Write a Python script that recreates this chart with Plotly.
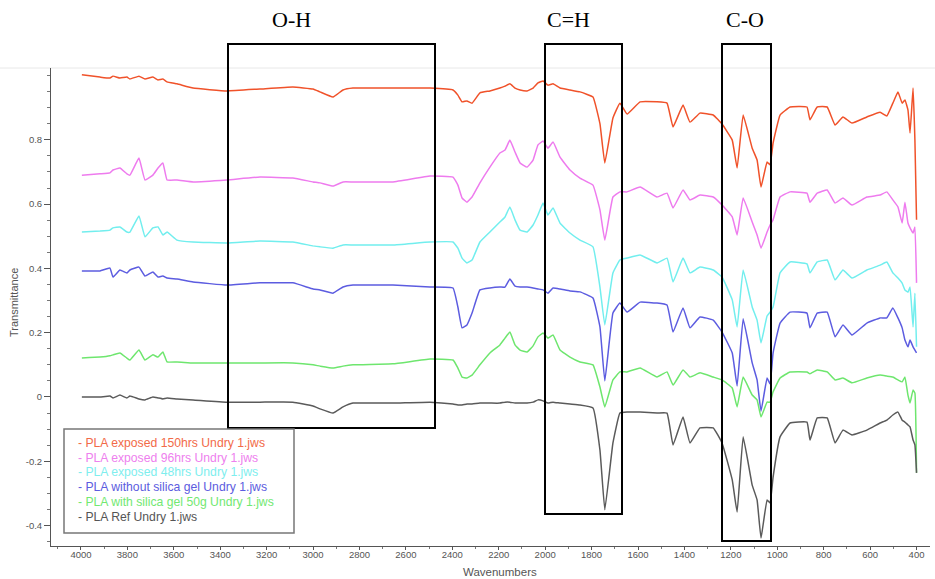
import plotly.graph_objects as go

# ---------------- data ----------------
wavenumbers = [3996, 3918, 3875, 3862, 3832, 3802, 3789, 3750, 3724, 3690,
               3668, 3647, 3629, 3586, 3517, 3371, 3229, 3087, 3000, 2970,
               2914, 2871, 2828, 2656, 2496, 2397, 2376, 2358, 2337, 2315,
               2281, 2238, 2195, 2173, 2152, 2130, 2108, 2078, 2052, 2031,
               2009, 1988, 1966, 1936, 1893, 1850, 1794, 1764, 1743, 1708,
               1678, 1647, 1591, 1518, 1475, 1449, 1406, 1376, 1333, 1276,
               1238, 1194, 1173, 1147, 1108, 1087, 1070, 1044, 1031, 1018,
               988, 945, 872, 859, 828, 785, 751, 717, 678, 614,
               557, 528, 502, 480, 462, 450, 437, 428, 415, 407,
               400]

t_exposed_150h = [1.002, 0.995, 0.992, 0.998, 0.992, 0.995, 0.989, 0.998, 0.989, 0.995,
                  0.986, 0.989, 0.980, 0.974, 0.961, 0.952, 0.958, 0.964, 0.958, 0.949,
                  0.933, 0.955, 0.961, 0.961, 0.961, 0.955, 0.939, 0.918, 0.921, 0.914,
                  0.946, 0.952, 0.961, 0.967, 0.974, 0.961, 0.955, 0.952, 0.961, 0.977,
                  0.983, 0.970, 0.974, 0.961, 0.955, 0.949, 0.933, 0.850, 0.728, 0.868,
                  0.914, 0.880, 0.918, 0.918, 0.914, 0.840, 0.908, 0.855, 0.883, 0.877,
                  0.849, 0.799, 0.712, 0.877, 0.774, 0.737, 0.653, 0.731, 0.722, 0.790,
                  0.877, 0.902, 0.902, 0.862, 0.902, 0.902, 0.846, 0.871, 0.852, 0.871,
                  0.886, 0.874, 0.914, 0.949, 0.914, 0.924, 0.893, 0.821, 0.961, 0.799,
                  0.551]

t_exposed_96h = [0.690, 0.694, 0.697, 0.706, 0.712, 0.694, 0.690, 0.743, 0.675, 0.690,
                 0.712, 0.728, 0.675, 0.675, 0.669, 0.675, 0.684, 0.681, 0.669, 0.666,
                 0.656, 0.669, 0.669, 0.669, 0.687, 0.684, 0.659, 0.619, 0.606, 0.622,
                 0.666, 0.715, 0.759, 0.768, 0.799, 0.762, 0.728, 0.715, 0.737, 0.784,
                 0.796, 0.774, 0.793, 0.746, 0.706, 0.681, 0.659, 0.582, 0.488, 0.622,
                 0.638, 0.638, 0.653, 0.622, 0.634, 0.588, 0.644, 0.613, 0.628, 0.622,
                 0.597, 0.560, 0.504, 0.619, 0.544, 0.504, 0.463, 0.513, 0.535, 0.551,
                 0.622, 0.638, 0.634, 0.606, 0.634, 0.644, 0.603, 0.619, 0.597, 0.622,
                 0.628, 0.638, 0.613, 0.591, 0.541, 0.606, 0.541, 0.526, 0.510, 0.529,
                 0.355]

t_exposed_48h = [0.513, 0.516, 0.519, 0.526, 0.529, 0.513, 0.513, 0.563, 0.498, 0.526,
                 0.529, 0.504, 0.513, 0.488, 0.482, 0.479, 0.485, 0.482, 0.470, 0.467,
                 0.463, 0.473, 0.473, 0.473, 0.482, 0.482, 0.463, 0.432, 0.417, 0.426,
                 0.482, 0.513, 0.544, 0.560, 0.591, 0.551, 0.519, 0.513, 0.535, 0.566,
                 0.603, 0.566, 0.588, 0.541, 0.510, 0.488, 0.467, 0.342, 0.224, 0.386,
                 0.426, 0.432, 0.442, 0.417, 0.432, 0.358, 0.432, 0.386, 0.404, 0.395,
                 0.373, 0.302, 0.218, 0.395, 0.280, 0.239, 0.168, 0.252, 0.264, 0.280,
                 0.386, 0.420, 0.414, 0.386, 0.420, 0.426, 0.364, 0.395, 0.370, 0.395,
                 0.410, 0.420, 0.386, 0.370, 0.354, 0.333, 0.326, 0.342, 0.218, 0.323,
                 0.156]

t_without_silica = [0.392, 0.392, 0.401, 0.373, 0.395, 0.386, 0.395, 0.404, 0.376, 0.389,
                    0.373, 0.376, 0.370, 0.367, 0.358, 0.348, 0.355, 0.355, 0.336, 0.333,
                    0.323, 0.342, 0.348, 0.348, 0.342, 0.339, 0.280, 0.215, 0.224, 0.261,
                    0.333, 0.339, 0.342, 0.342, 0.367, 0.345, 0.342, 0.342, 0.339, 0.336,
                    0.333, 0.323, 0.339, 0.336, 0.330, 0.327, 0.308, 0.218, 0.050, 0.261,
                    0.292, 0.264, 0.295, 0.292, 0.286, 0.202, 0.277, 0.215, 0.249, 0.239,
                    0.202, 0.137, 0.034, 0.243, 0.106, 0.053, -0.044, 0.059, 0.040, 0.137,
                    0.230, 0.264, 0.261, 0.215, 0.261, 0.264, 0.187, 0.224, 0.193, 0.230,
                    0.246, 0.246, 0.277, 0.246, 0.215, 0.177, 0.156, 0.177, 0.156, 0.146,
                    0.137]

t_with_silica_50g = [0.121, 0.124, 0.128, 0.131, 0.137, 0.121, 0.115, 0.146, 0.115, 0.131,
                     0.124, 0.140, 0.109, 0.109, 0.106, 0.106, 0.106, 0.106, 0.100, 0.096,
                     0.090, 0.096, 0.100, 0.103, 0.118, 0.115, 0.090, 0.062, 0.059, 0.068,
                     0.100, 0.137, 0.162, 0.183, 0.202, 0.162, 0.146, 0.140, 0.159, 0.187,
                     0.199, 0.183, 0.193, 0.146, 0.124, 0.109, 0.100, 0.031, -0.031, 0.053,
                     0.078, 0.078, 0.090, 0.062, 0.078, 0.037, 0.084, 0.062, 0.075, 0.062,
                     0.053, 0.028, -0.031, 0.062, 0.006, -0.009, -0.062, -0.016, -0.016, 0.016,
                     0.059, 0.078, 0.078, 0.072, 0.084, 0.078, 0.053, 0.059, 0.044, 0.059,
                     0.068, 0.065, 0.062, 0.053, 0.047, 0.062, 0.006, -0.019, 0.022, 0.012,
                     -0.236]

t_reference = [0.000, 0.000, 0.003, -0.003, 0.006, -0.003, 0.003, -0.006, -0.009, 0.000,
               -0.003, -0.006, -0.003, -0.006, -0.009, -0.016, -0.016, -0.016, -0.028, -0.037,
               -0.050, -0.031, -0.019, -0.019, -0.016, -0.022, -0.025, -0.025, -0.022, -0.022,
               -0.019, -0.019, -0.019, -0.016, -0.016, -0.019, -0.019, -0.019, -0.016, -0.009,
               -0.012, -0.019, -0.016, -0.019, -0.022, -0.025, -0.034, -0.165, -0.351, -0.143,
               -0.050, -0.047, -0.047, -0.050, -0.050, -0.149, -0.062, -0.143, -0.096, -0.096,
               -0.143, -0.258, -0.358, -0.124, -0.274, -0.320, -0.439, -0.320, -0.330, -0.249,
               -0.124, -0.081, -0.078, -0.134, -0.065, -0.065, -0.143, -0.103, -0.118, -0.103,
               -0.081, -0.072, -0.056, -0.047, -0.072, -0.078, -0.087, -0.093, -0.134, -0.149,
               -0.236]

series_names = ["PLA exposed 150hrs Undry 1.jws",
                "PLA exposed 96hrs Undry 1.jws",
                "PLA exposed 48hrs Undry 1.jws",
                "PLA without silica gel Undry 1.jws",
                "PLA with silica gel 50g Undry 1.jws",
                "PLA Ref Undry 1.jws"]
series_values = [t_exposed_150h, t_exposed_96h, t_exposed_48h,
                 t_without_silica, t_with_silica_50g, t_reference]
series_colors = ["#F0522A", "#EE7BEE", "#72EEEE", "#5C5CE0", "#6EE66E", "#5A5A5A"]
legend_colors = ["#F26A48", "#EE80EE", "#7EEEEE", "#5C5CE0", "#72E872", "#555555"]

x_tick_vals = [4000, 3800, 3600, 3400, 3200, 3000, 2800, 2600, 2400, 2200,
               2000, 1800, 1600, 1400, 1200, 1000, 800, 600, 400]
x_tick_text = [str(v) for v in x_tick_vals]
x_minor_vals = [v - 100 for v in x_tick_vals[:-1]] + [4100]
y_tick_vals = [1.0, 0.8, 0.6, 0.4, 0.2, 0.0, -0.2, -0.4]
y_tick_text = ["", "0.8", "0.6", "0.4", "0.2", "0", "-0.2", "-0.4"]
y_minor_vals = [round(1.0 - 0.05 * i, 2) for i in range(30)]

band_labels = ["O-H", "C=H", "C-O"]

# ---------------- figure ----------------
fig = go.Figure()
for name, vals, col in zip(series_names, series_values, series_colors):
    fig.add_trace(go.Scatter(x=wavenumbers, y=vals, mode="lines", name=name,
                             line=dict(color=col, width=1.5, shape="spline", smoothing=0.3),
                             showlegend=False, hoverinfo="x+y+name"))

axis_font = dict(family="Liberation Sans, Arial, sans-serif", size=9.5, color="#555555")

fig.update_layout(
    width=935, height=579, autosize=False,
    margin=dict(l=51, r=5, t=68, b=33, pad=0),
    paper_bgcolor="white", plot_bgcolor="white",
    showlegend=False,
    xaxis=dict(range=[4129, 342], showline=True, linecolor="#555555", linewidth=1,
               ticks="outside", ticklen=3, tickcolor="#555555", tickwidth=1,
               tickmode="array", tickvals=x_tick_vals, ticktext=x_tick_text,
               tickfont=axis_font, showgrid=False, zeroline=False,
               ticklabelstandoff=-3,
               minor=dict(tickmode="array", tickvals=x_minor_vals, ticks="outside",
                          ticklen=2, tickcolor="#777777", showgrid=False)),
    yaxis=dict(range=[-0.4635, 1.0233], showline=True, linecolor="#555555", linewidth=1,
               ticks="outside", ticklen=6, tickcolor="#555555", tickwidth=1,
               tickmode="array", tickvals=y_tick_vals, ticktext=y_tick_text,
               tickfont=axis_font, showgrid=False, zeroline=False,
               minor=dict(tickmode="array", tickvals=y_minor_vals, ticks="outside",
                          ticklen=3, tickcolor="#777777", showgrid=False)),
)

# plot geometry (pixels) for paper-coordinate decorations
L, R, T, B = 51, 930, 68, 546
W, H = R - L, B - T
def px(x):
    return (x - L) / W
def py(y):
    return (B - y) / H

shapes = []
# faint page rule at top of plot
shapes.append(dict(type="line", xref="paper", yref="paper",
                   x0=px(0), x1=px(935), y0=py(68), y1=py(68),
                   line=dict(color="#E8E8E8", width=1), layer="below"))
# band boxes
boxes = [(228, 435, 44, 428), (545, 622, 44, 514), (722, 771, 44, 541)]
for x0, x1, y0, y1 in boxes:
    shapes.append(dict(type="rect", xref="paper", yref="paper",
                       x0=px(x0), x1=px(x1), y0=py(y1), y1=py(y0),
                       line=dict(color="black", width=2), fillcolor="rgba(0,0,0,0)"))
# legend frame
shapes.append(dict(type="rect", xref="paper", yref="paper",
                   x0=px(64), x1=px(294), y0=py(533), y1=py(429),
                   line=dict(color="#777777", width=1.5), fillcolor="white"))
fig.update_layout(shapes=shapes)

annotations = []
for lab, cx in zip(band_labels, [291, 568, 745]):
    annotations.append(dict(text=lab, xref="paper", yref="paper", x=px(cx), y=py(20),
                            xanchor="center", yanchor="middle", showarrow=False,
                            font=dict(family="Liberation Serif, Times New Roman, serif",
                                      size=22, color="black")))
legend_rows = [443, 457.5, 472, 487, 501.5, 516.5]
for name, col, yy in zip(series_names, legend_colors, legend_rows):
    annotations.append(dict(text="- " + name, xref="paper", yref="paper",
                            x=px(76), y=py(yy), xanchor="left", yanchor="middle",
                            showarrow=False,
                            font=dict(family="Liberation Sans, Arial, sans-serif",
                                      size=12.2, color=col)))
annotations.append(dict(text="Wavenumbers", xref="paper", yref="paper",
                        x=px(500), y=py(572), xanchor="center", yanchor="middle",
                        showarrow=False,
                        font=dict(family="Liberation Sans, Arial, sans-serif",
                                  size=11.5, color="#555555")))
annotations.append(dict(text="Transmittance", xref="paper", yref="paper",
                        x=px(14), y=py(303), xanchor="center", yanchor="middle",
                        textangle=-90, showarrow=False,
                        font=dict(family="Liberation Sans, Arial, sans-serif",
                                  size=11, color="#555555")))
fig.update_layout(annotations=annotations)

fig.write_html("out.html", config={"displayModeBar": False},
               post_script="document.body.style.margin='0';document.body.style.overflow='hidden';")
